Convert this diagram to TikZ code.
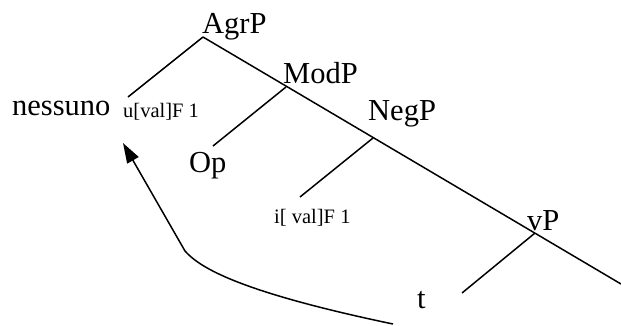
\documentclass[tikz,border=0pt]{standalone}
\usepackage{fontspec}
\setmainfont{Liberation Serif}
\usetikzlibrary{arrows.meta}
\begin{document}
\begin{tikzpicture}[x=1bp,y=-1bp,
  big/.style={inner sep=0pt,anchor=base west,font=\fontsize{30.5bp}{34bp}\selectfont},
  small/.style={inner sep=0pt,anchor=base west,font=\fontsize{20.5bp}{24bp}\selectfont},
  branch/.style={line width=1.5bp},
  move/.style={line width=1.5bp,-{Triangle[length=20bp,width=13bp]}}]
\useasboundingbox (0,0) rectangle (621,325);
% labels
\node[big] (agrp) at (202,33) {AgrP};
\node[big] (modp) at (283,83) {ModP};
\node[big] (negp) at (368,120) {NegP};
\node[big] (vp) at (527,230) {vP};
\node[big] (nessuno) at (12,115) {nessuno};
\node[small] (ufeat) at (123,117) {u[val]F 1};
\node[big] (op) at (189,172) {Op};
\node[small] (ifeat) at (274,223) {i[ val]F 1};
\node[big] (t) at (417,308) {t};
% branch points
\coordinate (agr) at (203,37);
\coordinate (mod) at (286,87);
\coordinate (neg) at (373,138);
\coordinate (v) at (535,233);
\coordinate (end) at (621,284);
\coordinate (nesL) at (128,97);
\coordinate (opL) at (213,146);
\coordinate (iL) at (300,197);
\coordinate (tL) at (462,293);
% tree
\draw[branch] (agr) -- (end);
\draw[branch] (agr) -- (nesL);
\draw[branch] (mod) -- (opL);
\draw[branch] (neg) -- (iL);
\draw[branch] (v) -- (tL);
% movement arrow
\coordinate (mvS) at (393,324);
\coordinate (mvK) at (185,251);
\coordinate (mvT) at (123,143);
\draw[move] (mvS) .. controls (240,292) and (200,268) .. (mvK) -- (mvT);
\end{tikzpicture}
\end{document}
